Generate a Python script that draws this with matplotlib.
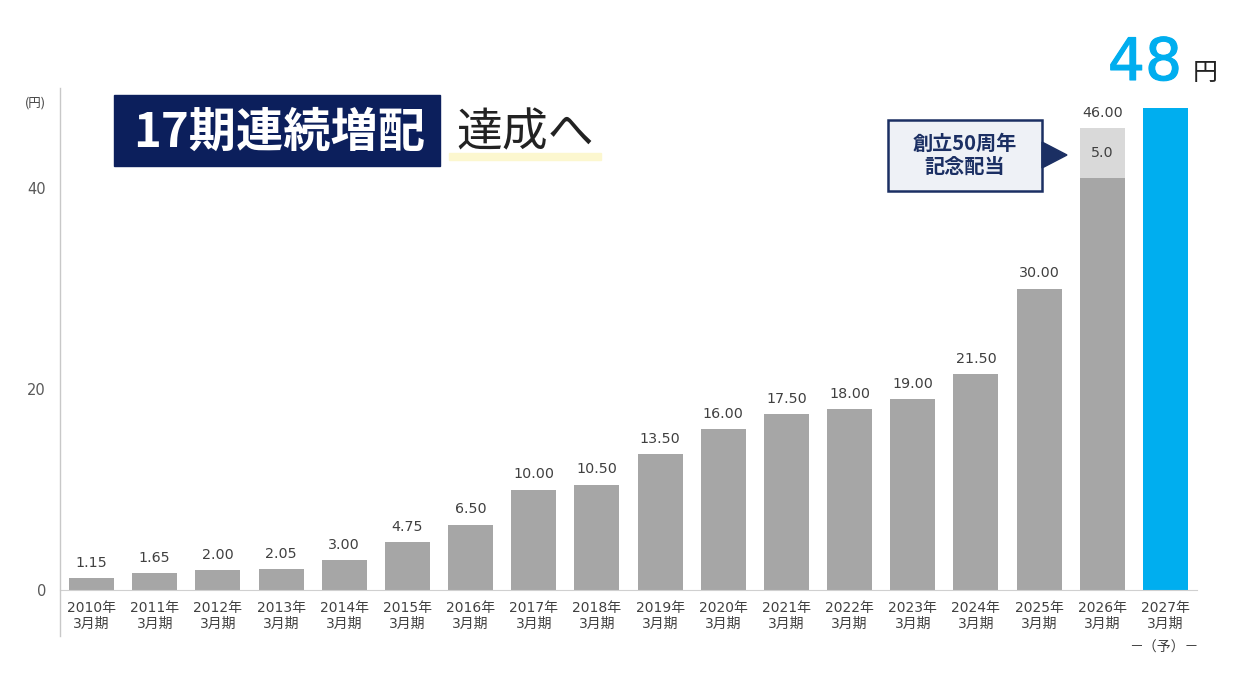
import matplotlib.pyplot as plt
import matplotlib.patheffects as pe
from matplotlib.patches import Rectangle, Polygon
from matplotlib.lines import Line2D

plt.rcParams['font.family'] = ['Noto Sans CJK JP', 'DejaVu Sans']
NUMFONT = ['DejaVu Sans', 'Noto Sans CJK JP']

# data
years = [str(y) for y in range(2010, 2028)]
base = [1.15, 1.65, 2.00, 2.05, 3.00, 4.75, 6.50, 10.00, 10.50, 13.50,
        16.00, 17.50, 18.00, 19.00, 21.50, 30.00, 41.00, 48.00]
special = [0, 0, 0, 0, 0, 0, 0, 0, 0, 0, 0, 0, 0, 0, 0, 0, 5.0, 0]
labels = ['1.15', '1.65', '2.00', '2.05', '3.00', '4.75', '6.50', '10.00', '10.50',
          '13.50', '16.00', '17.50', '18.00', '19.00', '21.50', '30.00', '46.00', '']
yticks = [0, 20, 40]

W, H = 1258, 679
GREY = '#a6a6a6'
LIGHT = '#d9d9d9'
BLUE = '#00aeef'
NAVY = '#0c1f5c'
TXT = '#404040'

fig = plt.figure(figsize=(W / 100, H / 100), dpi=100)
ax = fig.add_axes([60 / W, 1 - 590 / H, (1197 - 60) / W, (590 - 88) / H])

def fx(px):
    return px / W

def fy(py):
    return 1 - py / H

x = list(range(len(years)))
colors = [GREY] * (len(years) - 1) + [BLUE]
ax.bar(x, base, width=0.71, color=colors, zorder=2)
ax.bar(x, special, bottom=base, width=0.71, color=LIGHT, zorder=2)

for i in x:
    top = base[i] + special[i]
    if labels[i]:
        ax.annotate(labels[i], (i, top), xytext=(0, 6), textcoords='offset points',
                    ha='center', va='bottom', fontsize=10.3, color=TXT, family=NUMFONT)
    if special[i]:
        ax.text(i, base[i] + special[i] / 2, f'{special[i]:.1f}', ha='center',
                va='center', fontsize=10.3, color=TXT, family=NUMFONT)

ax.set_xlim(-0.5, 17.5)
ax.set_ylim(0, 50)
ax.set_xticks(x)
ax.set_xticklabels([f'{y}年\n3月期' for y in years], fontsize=10, color=TXT,
                   linespacing=1.15, family=NUMFONT)
ax.set_yticks(yticks)
ax.set_yticklabels([str(v) for v in yticks], fontsize=10.5, color='#595959',
                   family=NUMFONT)
ax.tick_params(length=0, pad=8)
ax.tick_params(axis='y', pad=10)
for s in ['top', 'right', 'left']:
    ax.spines[s].set_visible(False)
ax.spines['bottom'].set_color('#d0d0d0')

# left axis line extends below the baseline
fig.add_artist(Line2D([fx(60), fx(60)], [fy(88), fy(636)], color='#c8c8c8', lw=1))

fig.text(fx(35), fy(103), '(円)', fontsize=9, color=TXT, ha='center', va='center')

# headline
fig.add_artist(Rectangle((fx(114), fy(166)), fx(440) - fx(114), fy(95) - fy(166),
                         color=NAVY, zorder=3))
fig.text(fx(279), fy(133), '17期連続増配', fontsize=34, fontweight='bold', color='white',
         ha='center', va='center', zorder=4)
fig.add_artist(Rectangle((fx(449), fy(160)), fx(601) - fx(449), fy(153) - fy(160),
                         color='#fcf7cf', zorder=3))
fig.text(fx(456), fy(133), '達成へ', fontsize=33, color='#222222',
         ha='left', va='center', zorder=4)

# callout
fig.add_artist(Rectangle((fx(888), fy(191)), fx(1042) - fx(888), fy(120) - fy(191),
                         facecolor='#eef1f6', edgecolor='#1b2f63', lw=1.8, zorder=3))
fig.add_artist(Polygon([(fx(1042), fy(142)), (fx(1042), fy(168)), (fx(1067), fy(155))],
                       closed=True, color='#1b2f63', zorder=3))
fig.text(fx(965), fy(155), '創立50周年\n記念配当', fontsize=14.5, fontweight='bold',
         color='#1b2f63', ha='center', va='center', linespacing=1.15, zorder=4)

# forecast
fig.text(fx(1145), fy(80), '48', fontsize=42, color=BLUE, ha='center', va='baseline',
         family=NUMFONT,
         path_effects=[pe.withStroke(linewidth=0.8, foreground=BLUE)])
fig.text(fx(1193), fy(80), '円', fontsize=18, color='#222222', ha='left', va='baseline')
fig.text(fx(1164), fy(648), '－（予）－', fontsize=10, color=TXT, ha='center', va='center')

fig.savefig('out.png', dpi=100)
